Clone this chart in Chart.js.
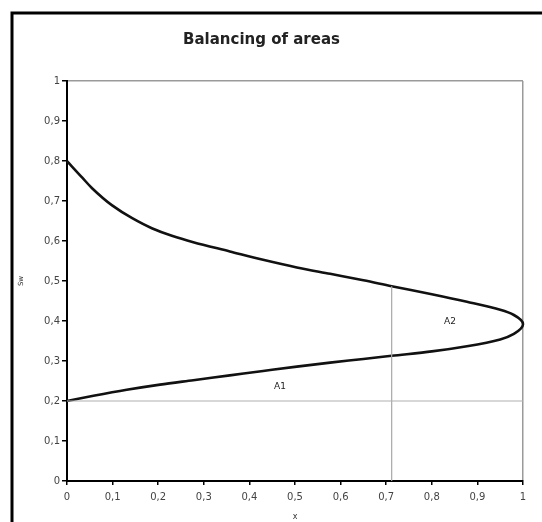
<!DOCTYPE html>
<html>
<head>
<meta charset="utf-8">
<script src="https://cdn.jsdelivr.net/npm/chart.js@4.4.1/dist/chart.umd.min.js"></script>
<style>
  html, body { margin: 0; padding: 0; background: #fff; }
  #wrap { position: relative; width: 542px; height: 522px; }
</style>
</head>
<body>
<div id="wrap"><canvas id="c" width="542" height="522"></canvas></div>
<script>
// ---- data ----
const curveX  = [0, 0.058, 0.131, 0.204, 0.277, 0.357, 0.43, 0.504, 0.577, 0.65, 0.712, 0.80, 0.877, 0.95, 0.98, 1.0,
                 0.98, 0.95, 0.877, 0.80, 0.712, 0.65, 0.577, 0.504, 0.43, 0.357, 0.277, 0.23, 0.186, 0.143, 0.099, 0.055, 0.033, 0.011, 0];
const curveSw = [0.200, 0.213, 0.228, 0.241, 0.252, 0.264, 0.275, 0.286, 0.296, 0.305, 0.313, 0.324, 0.337, 0.354, 0.368, 0.392,
                 0.415, 0.428, 0.448, 0.467, 0.487, 0.502, 0.518, 0.534, 0.553, 0.574, 0.597, 0.613, 0.632, 0.657, 0.689, 0.732, 0.759, 0.786, 0.80];
const swiLineX  = [0, 1];
const swiLineSw = [0.2, 0.2];
const xfLineX   = [0.712, 0.712];
const xfLineSw  = [0, 0.487];
const areaNames = ['A1', 'A2'];
const areaX     = [0.467, 0.84];
const areaSw    = [0.235, 0.398];
const xTickLabels = ['0', '0,1', '0,2', '0,3', '0,4', '0,5', '0,6', '0,7', '0,8', '0,9', '1'];
const yTickLabels = ['0', '0,1', '0,2', '0,3', '0,4', '0,5', '0,6', '0,7', '0,8', '0,9', '1'];

const toPts = (xs, ys) => xs.map((v, i) => ({ x: v, y: ys[i] }));

const framePlugin = {
  id: 'frame',
  afterDraw(chart) {
    const ctx = chart.ctx;
    ctx.save();
    ctx.strokeStyle = '#000';
    ctx.lineWidth = 3;
    ctx.beginPath();
    ctx.moveTo(12, 530);
    ctx.lineTo(12, 13);
    ctx.lineTo(550, 13);
    ctx.stroke();
    // area labels
    const xs = chart.scales.x, ys = chart.scales.y;
    ctx.fillStyle = '#222';
    ctx.font = '9px "DejaVu Sans"';
    ctx.textAlign = 'center';
    ctx.textBaseline = 'middle';
    areaNames.forEach((n, i) => {
      ctx.fillText(n, xs.getPixelForValue(areaX[i]), ys.getPixelForValue(areaSw[i]));
    });
    ctx.restore();
  }
};

new Chart(document.getElementById('c'), {
  type: 'scatter',
  data: {
    datasets: [
      { data: toPts(swiLineX, swiLineSw), showLine: true, borderColor: '#b0b0b0', borderWidth: 1.2, pointRadius: 0, tension: 0 },
      { data: toPts(xfLineX, xfLineSw), showLine: true, borderColor: '#a8a8a8', borderWidth: 1.2, pointRadius: 0, tension: 0 },
      { data: toPts(curveX, curveSw), showLine: true, borderColor: '#111', borderWidth: 2.6, pointRadius: 0,
        indexAxis: 'y', cubicInterpolationMode: 'monotone', clip: false }
    ]
  },
  options: {
    responsive: false,
    animation: false,
    layout: { padding: { left: 0, right: 19, top: 0, bottom: 0 } },
    plugins: {
      legend: { display: false },
      tooltip: { enabled: false },
      title: {
        display: true,
        text: 'Balancing of areas',
        color: '#222',
        font: { family: 'DejaVu Sans', size: 15, weight: 'bold', lineHeight: 1.2 },
        padding: { top: 31, bottom: 32 }
      }
    },
    scales: {
      x: {
        type: 'linear', position: 'bottom', min: 0, max: 1,
        afterFit(s) { s.height = 41; },
        ticks: {
          stepSize: 0.1, padding: 6, color: '#444',
          font: { family: 'DejaVu Sans', size: 10 },
          maxRotation: 0, autoSkip: false,
          callback: (v, i) => xTickLabels[i]
        },
        grid: {
          color: c => (c.tick && c.tick.value === 1) ? '#9a9a9a' : 'transparent',
          lineWidth: 1.5, tickColor: '#000', tickLength: 4, drawTicks: true
        },
        border: { color: '#000', width: 2 },
        title: { display: true, text: 'x', color: '#333', font: { family: 'DejaVu Sans', size: 8 }, padding: { top: 0, bottom: 0 } }
      },
      y: {
        type: 'linear', position: 'left', min: 0, max: 1,
        afterFit(s) { s.width = 67; },
        ticks: {
          stepSize: 0.1, padding: 2, color: '#444',
          font: { family: 'DejaVu Sans', size: 10 },
          autoSkip: false,
          callback: (v, i) => yTickLabels[i]
        },
        grid: {
          color: c => (c.tick && c.tick.value === 1) ? '#9a9a9a' : 'transparent',
          lineWidth: 1.5, tickColor: '#000', tickLength: 5, drawTicks: true
        },
        border: { color: '#000', width: 2 },
        title: { display: true, text: 'Sw', color: '#333', font: { family: 'DejaVu Sans', size: 7 }, padding: { top: 17, bottom: 0 } }
      }
    }
  },
  plugins: [framePlugin]
});
</script>
</body>
</html>
